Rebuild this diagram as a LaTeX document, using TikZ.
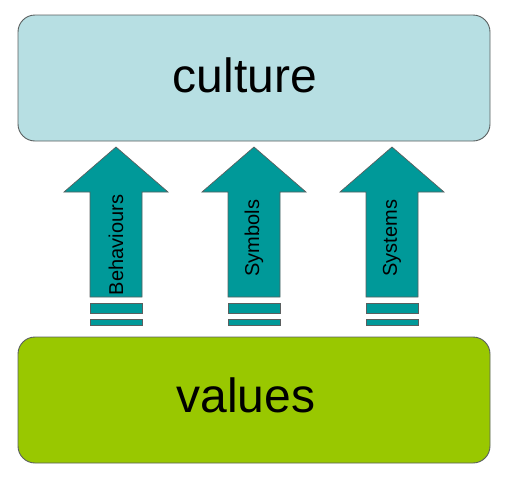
\documentclass[tikz,border=0pt]{standalone}
\usepackage{fontspec}
\setmainfont{Liberation Sans}
\usetikzlibrary{positioning}

\definecolor{cultureblue}{RGB}{183,223,227}
\definecolor{valuegreen}{RGB}{153,200,0}
\definecolor{arrowteal}{RGB}{0,153,153}
\definecolor{edgegray}{RGB}{90,95,95}

\tikzset{
  layerbox/.style={draw=edgegray,line width=0.9pt,rounded corners=17pt,
    minimum width=472pt,minimum height=126pt,inner sep=0pt},
  bigtext/.style={font=\fontsize{48}{56}\selectfont,anchor=base},
  upshape/.style={draw=edgegray,line width=0.7pt,fill=arrowteal},
  arrowtext/.style={font=\fontsize{20}{24}\selectfont,rotate=90,inner sep=0pt}
}

\begin{document}
\begin{tikzpicture}[x=1pt,y=-1pt]
\useasboundingbox (0,0) rectangle (506,480);
%
\node[layerbox,fill=cultureblue] (culture) at (254,78) {};
\node[bigtext] (culturetext) at (245,92) {culture};
%
\node[layerbox,fill=valuegreen] (values) at (254,400) {};
\node[bigtext] (valuestext) at (246,412) {values};

%
\draw[upshape] (90,297)--(90,192)--(64,192)--(116,147)--(168,192)--(142,192)--(142,297)--cycle;
\draw[upshape] (90,303) rectangle (142,313);
\draw[upshape] (90,319) rectangle (142,325);
\node[arrowtext] (behaviours) at (116,245) {Behaviours};

%
\draw[upshape] (228,297)--(228,192)--(202,192)--(254,147)--(306,192)--(280,192)--(280,297)--cycle;
\draw[upshape] (228,303) rectangle (280,313);
\draw[upshape] (228,319) rectangle (280,325);
\node[arrowtext] (symbols) at (254,238) {Symbols};

%
\draw[upshape] (366,297)--(366,192)--(340,192)--(392,147)--(444,192)--(418,192)--(418,297)--cycle;
\draw[upshape] (366,303) rectangle (418,313);
\draw[upshape] (366,319) rectangle (418,325);
\node[arrowtext] (systems) at (392,238) {Systems};
\end{tikzpicture}
\end{document}
